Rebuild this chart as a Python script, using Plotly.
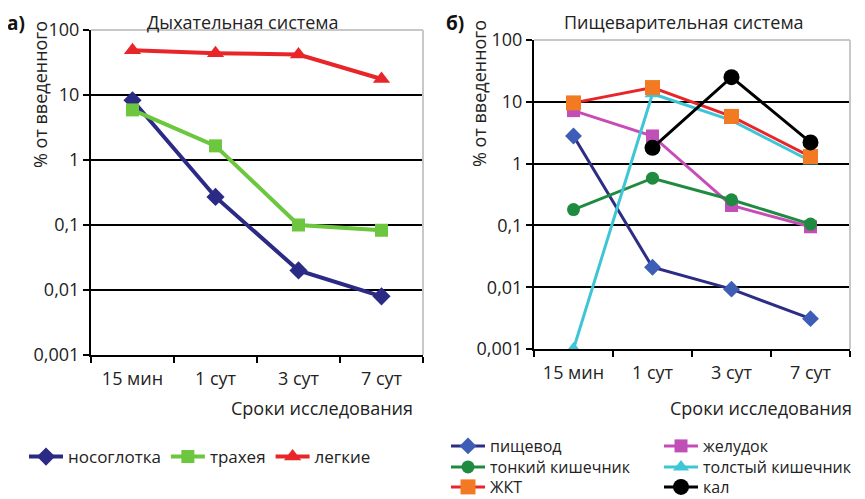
import plotly.graph_objects as go

# page body has an 8px margin; figure sized to fit the 865x499 window
OFF = 8
W, H = 865 - OFF, 499 - OFF

categories = ["15 мин", "1 сут", "3 сут", "7 сут"]
y_tickvals = [0.001, 0.01, 0.1, 1, 10, 100]
y_ticktext = ["0,001", "0,01", "0,1", "1", "10", "100"]

# Panel а) Дыхательная система
nasopharynx = [8.3, 0.27, 0.020, 0.008]
trachea = [5.9, 1.65, 0.10, 0.083]
lungs = [49, 44, 42, 17.6]

# Panel б) Пищеварительная система
esophagus = [2.8, 0.021, 0.0093, 0.0031]
stomach = [7.2, 2.8, 0.21, 0.095]
small_int = [0.18, 0.58, 0.26, 0.105]
large_int = [0.001, 13.5, 5.0, 1.1]
git = [9.6, 17, 5.8, 1.3]
feces = [None, 1.8, 25, 2.2]

FONT = "Open Sans"

def px_x(p):
    return (p - OFF) / W

def px_y(p):
    return 1 - (p - OFF) / H

fig = go.Figure()

def add(name, ys, xa, ya, line_color, marker_color, symbol, size, lw, legend):
    fig.add_trace(go.Scatter(
        x=categories, y=ys, name=name, mode="lines+markers",
        xaxis=xa, yaxis=ya, connectgaps=False,
        line=dict(color=line_color, width=lw),
        marker=dict(color=marker_color, symbol=symbol, size=size,
                    line=dict(width=0)),
        legend=legend, cliponaxis=True,
    ))

add("носоглотка", nasopharynx, "x", "y", "#2b2a85", "#2b2a85", "diamond", 14, 4, "legend")
add("трахея", trachea, "x", "y", "#6cc63e", "#6cc63e", "square", 13, 4, "legend")
add("легкие", lungs, "x", "y", "#e8262a", "#e8262a", "triangle-up", 15, 4, "legend")

add("пищевод", esophagus, "x2", "y2", "#2c2d84", "#3d5db7", "diamond", 13, 3, "legend2")
add("желудок", stomach, "x2", "y2", "#c84cb8", "#c04fb8", "square", 13, 3, "legend2")
add("тонкий кишечник", small_int, "x2", "y2", "#1f8b40", "#1f8b40", "circle", 13, 3, "legend3")
add("толстый кишечник", large_int, "x2", "y2", "#3ec5d6", "#3ec5d6", "triangle-up", 14, 3, "legend3")
add("ЖКТ", git, "x2", "y2", "#e8262a", "#f27a22", "square", 15, 3, "legend4")
add("кал", feces, "x2", "y2", "#000000", "#000000", "circle", 16, 3, "legend4")

xcommon = dict(type="category", range=[-0.5, 3.5], showgrid=False,
               showline=True, linecolor="black", linewidth=2,
               ticks="outside", tickson="boundaries", ticklen=6, tickwidth=2,
               tickcolor="black", ticklabelstandoff=6, automargin=False,
               tickfont=dict(family=FONT, size=18, color="#222"),
               categoryorder="array", categoryarray=categories,
               fixedrange=True)
ycommon = dict(type="log", range=[-3, 2], tickvals=y_tickvals, ticktext=y_ticktext,
               showgrid=True, gridcolor="black", gridwidth=1.5,
               showline=True, linecolor="black", linewidth=2,
               ticks="outside", ticklen=6, tickwidth=2, tickcolor="black",
               tickfont=dict(family=FONT, size=18, color="#222"), automargin=False,
               zeroline=False, fixedrange=True)

leg_font = dict(family=FONT, size=16, color="#222")
leg_font_l = dict(family=FONT, size=17, color="#222")

fig.update_layout(
    width=W, height=H,
    margin=dict(l=0, r=0, t=0, b=0, autoexpand=False),
    paper_bgcolor="white", plot_bgcolor="white",
    xaxis=dict(xcommon, domain=[px_x(91), px_x(423)], anchor="y"),
    yaxis=dict(ycommon, domain=[px_y(355), px_y(30)], anchor="x"),
    xaxis2=dict(xcommon, domain=[px_x(534), px_x(850)], anchor="y2"),
    yaxis2=dict(ycommon, domain=[px_y(349), px_y(40)], anchor="x2"),
    legend=dict(orientation="h", x=px_x(24), y=px_y(457), xanchor="left", yanchor="middle",
                font=leg_font_l, bgcolor="rgba(0,0,0,0)", itemwidth=34),
    legend2=dict(orientation="h", x=px_x(446), y=px_y(446), xanchor="left", yanchor="middle",
                 font=leg_font, bgcolor="rgba(0,0,0,0)", entrywidth=164, itemwidth=34),
    legend3=dict(orientation="h", x=px_x(446), y=px_y(467), xanchor="left", yanchor="middle",
                 font=leg_font, bgcolor="rgba(0,0,0,0)", entrywidth=164, itemwidth=34),
    legend4=dict(orientation="h", x=px_x(446), y=px_y(487), xanchor="left", yanchor="middle",
                 font=leg_font, bgcolor="rgba(0,0,0,0)", entrywidth=164, itemwidth=34),
    showlegend=True,
)

# light grey top/right frame of plot areas
for xa, ya in (("x", "y"), ("x2", "y2")):
    fig.add_shape(type="line", xref=f"{xa} domain", yref=f"{ya} domain",
                  x0=0, x1=1, y0=1, y1=1, line=dict(color="#c8c8c8", width=2), layer="above")
    fig.add_shape(type="line", xref=f"{xa} domain", yref=f"{ya} domain",
                  x0=1, x1=1, y0=0, y1=1, line=dict(color="#c8c8c8", width=2), layer="above")

ann_font = dict(family=FONT, size=18, color="#222")
annotations = [
    dict(text="<b>а)</b>", x=px_x(16), y=px_y(23), xanchor="center", yanchor="middle",
         font=dict(family=FONT, size=19, color="#111")),
    dict(text="Дыхательная система", x=px_x(243), y=px_y(22), xanchor="center", yanchor="middle",
         font=ann_font),
    dict(text="% от введенного", x=px_x(40), y=px_y(95), xanchor="center", yanchor="middle",
         textangle=-90, font=ann_font),
    dict(text="Сроки исследования", x=px_x(415), y=px_y(408), xanchor="right", yanchor="middle",
         font=ann_font),
    dict(text="<b>б)</b>", x=px_x(455), y=px_y(23), xanchor="center", yanchor="middle",
         font=dict(family=FONT, size=19, color="#111")),
    dict(text="Пищеварительная система", x=px_x(684), y=px_y(22), xanchor="center", yanchor="middle",
         font=ann_font),
    dict(text="% от введенного", x=px_x(479), y=px_y(93), xanchor="center", yanchor="middle",
         textangle=-90, font=ann_font),
    dict(text="Сроки исследования", x=px_x(854), y=px_y(408), xanchor="right", yanchor="middle",
         font=ann_font),
]
for a in annotations:
    a.update(xref="paper", yref="paper", showarrow=False)
fig.update_layout(annotations=annotations)

fig.write_html("out.html", config={"displayModeBar": False})
